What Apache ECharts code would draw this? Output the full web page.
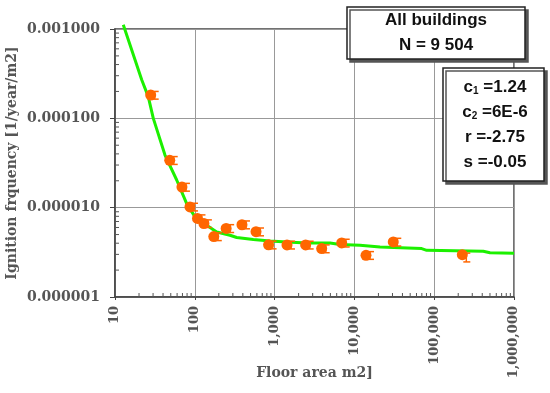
<!DOCTYPE html>
<html>
<head>
<meta charset="utf-8">
<script src="https://cdn.jsdelivr.net/npm/echarts@6/dist/echarts.min.js"></script>
<style>html,body{margin:0;padding:0;background:#fff}#c{width:550px;height:393px}</style>
</head>
<body>
<div id="c"></div>
<script>
// Observed data: floor area (m2) and ignition frequency (1/year/m2)
var areaX = [28, 48.5, 69, 87, 108, 130, 173, 247, 390, 585, 840, 1430, 2450, 3890, 6930, 13970, 30700, 225000];
var freqY = [1.82e-4, 3.39e-5, 1.70e-5, 1.02e-5, 7.57e-6, 6.65e-6, 4.75e-6, 5.86e-6, 6.44e-6, 5.38e-6, 3.84e-6, 3.83e-6, 3.83e-6, 3.48e-6, 4.03e-6, 2.93e-6, 4.13e-6, 2.98e-6];
var errLow = [1.64e-4, 3.05e-5, 1.53e-5, 9.2e-6, 6.8e-6, 6.0e-6, 4.28e-6, 5.27e-6, 5.8e-6, 4.84e-6, 3.46e-6, 3.45e-6, 3.45e-6, 3.13e-6, 3.63e-6, 2.64e-6, 3.72e-6, 2.47e-6];
var errHigh = [2.0e-4, 3.73e-5, 1.87e-5, 1.12e-5, 8.3e-6, 7.3e-6, 5.22e-6, 6.45e-6, 7.1e-6, 5.92e-6, 4.22e-6, 4.21e-6, 4.21e-6, 3.83e-6, 4.43e-6, 3.22e-6, 4.54e-6, 3.1e-6];
// Fitted curve
var fitX = [12.7, 21.6, 26.1, 30.2, 42.3, 59.3, 79.1, 100.6, 141, 188, 276, 335, 541, 875, 1419, 2524, 4943, 6607, 11750, 20940, 69660, 80540, 412100, 500000, 1000000];
var fitY = [1.117e-3, 2.70e-4, 1.75e-4, 1.00e-4, 3.88e-5, 2.04e-5, 1.11e-5, 7.88e-6, 6.36e-6, 5.35e-6, 4.91e-6, 4.63e-6, 4.40e-6, 4.24e-6, 4.13e-6, 4.03e-6, 4.03e-6, 3.86e-6, 3.80e-6, 3.63e-6, 3.48e-6, 3.33e-6, 3.25e-6, 3.13e-6, 3.08e-6];
var xTickLabels = ['10', '100', '1,000', '10,000', '100,000', '1,000,000'];
var yTickLabels = ['0.000001', '0.000010', '0.000100', '0.001000'];
var xAxisName = 'Floor area m2]';
var yAxisName = 'Ignition frquency [1/year/m2]';

var minorX = [];
for (var k = 1; k <= 5; k++) for (var m = 2; m <= 9; m++) minorX.push(m * Math.pow(10, k));
var minorY = [];
for (var k2 = -6; k2 <= -4; k2++) for (var m2 = 2; m2 <= 9; m2++) minorY.push(m2 * Math.pow(10, k2));

var serif = 'DejaVu Serif';
var sans = 'Liberation Sans';
var gray = '#555';

var chart = echarts.init(document.getElementById('c'));
chart.setOption({
  animation: false,
  grid: { left: 115, right: 36, top: 29, bottom: 96, containLabel: false, outerBoundsMode: 'none',
          show: true, borderColor: '#444', borderWidth: 1.5 },
  xAxis: {
    type: 'log', logBase: 10, min: 10, max: 1000000,
    name: xAxisName, nameLocation: 'middle', nameGap: 69, nameMoveOverlap: false,
    nameTextStyle: { fontFamily: serif, fontWeight: 'bold', fontSize: 14, color: gray },
    axisLine: { lineStyle: { color: '#444', width: 1.5 } },
    axisTick: { show: true, length: 3, lineStyle: { color: '#444' } },
    splitLine: { show: true, lineStyle: { color: '#999', width: 1 } },
    axisLabel: {
      rotate: 90, margin: 9, fontFamily: serif, fontWeight: 'bold', fontSize: 13, color: gray,
      formatter: function (v) { return xTickLabels[Math.round(Math.log10(v)) - 1]; }
    }
  },
  yAxis: {
    type: 'log', logBase: 10, min: 1e-6, max: 1e-3,
    name: yAxisName, nameLocation: 'middle', nameGap: 96, nameRotate: 90, nameMoveOverlap: false,
    nameTextStyle: { fontFamily: serif, fontWeight: 'bold', fontSize: 14, color: gray },
    axisLine: { lineStyle: { color: '#444', width: 1.5 } },
    axisTick: { show: true, length: 5, lineStyle: { color: '#444' } },
    splitLine: { show: true, lineStyle: { color: '#999', width: 1 } },
    axisLabel: {
      margin: 15, fontFamily: serif, fontWeight: 'bold', fontSize: 14, color: gray,
      formatter: function (v) { return yTickLabels[Math.round(Math.log10(v)) + 6]; }
    }
  },
  series: [
    {
      type: 'custom', silent: true, clip: false, z: 1,
      data: minorX.map(function (v) { return [v, 1e-6]; }),
      renderItem: function (params, api) {
        var p = api.coord([api.value(0), api.value(1)]);
        return { type: 'line', shape: { x1: p[0], y1: p[1], x2: p[0], y2: p[1] - 4 }, style: { stroke: '#555', lineWidth: 1 } };
      }
    },
    {
      type: 'custom', silent: true, clip: false, z: 1,
      data: minorY.map(function (v) { return [10, v]; }),
      renderItem: function (params, api) {
        var p = api.coord([api.value(0), api.value(1)]);
        return { type: 'line', shape: { x1: p[0], y1: p[1], x2: p[0] + 4, y2: p[1] }, style: { stroke: '#555', lineWidth: 1 } };
      }
    },
    {
      type: 'line', data: fitX.map(function (x, i) { return [x, fitY[i]]; }),
      showSymbol: false, symbol: 'none', smooth: false, clip: false, z: 3,
      lineStyle: { color: '#1cf000', width: 3 }
    },
    {
      type: 'custom', z: 4,
      data: areaX.map(function (x, i) { return [x, freqY[i], errLow[i], errHigh[i]]; }),
      renderItem: function (params, api) {
        var x = api.value(0);
        var p = api.coord([x, api.value(1)]);
        var lo = api.coord([x, api.value(2)]);
        var hi = api.coord([x, api.value(3)]);
        var st = { stroke: '#ff6600', lineWidth: 1.5 };
        return { type: 'group', children: [
          { type: 'line', shape: { x1: p[0] + 4, y1: lo[1], x2: p[0] + 4, y2: hi[1] }, style: st },
          { type: 'line', shape: { x1: p[0] + 1, y1: lo[1], x2: p[0] + 8, y2: lo[1] }, style: st },
          { type: 'line', shape: { x1: p[0] + 1, y1: hi[1], x2: p[0] + 8, y2: hi[1] }, style: st }
        ] };
      }
    },
    {
      type: 'scatter', z: 5, symbol: 'circle', symbolSize: 11,
      data: areaX.map(function (x, i) { return [x, freqY[i]]; }),
      itemStyle: { color: '#ff6600', opacity: 1 }
    }
  ],
  graphic: [
    { type: 'rect', z: 100, shape: { x: 347, y: 7, width: 178, height: 52 },
      style: { fill: '#fff', stroke: '#222', lineWidth: 1.5, shadowColor: '#555', shadowOffsetX: 3, shadowOffsetY: 3, shadowBlur: 0 } },
    { type: 'text', z: 101, x: 436, y: 20, style: { text: 'All buildings', font: 'bold 17px "Liberation Sans"', fill: '#111', textAlign: 'center', textVerticalAlign: 'middle' } },
    { type: 'text', z: 101, x: 436, y: 45, style: { text: 'N = 9 504', font: 'bold 17px "Liberation Sans"', fill: '#111', textAlign: 'center', textVerticalAlign: 'middle' } },
    { type: 'rect', z: 100, shape: { x: 443, y: 68, width: 101, height: 113 },
      style: { fill: '#fff', stroke: '#222', lineWidth: 1.5, shadowColor: '#555', shadowOffsetX: 3, shadowOffsetY: 3, shadowBlur: 0 } },
    { type: 'text', z: 101, x: 495, y: 87, style: { text: '{b|c}{s|1}{b| =1.24}', textAlign: 'center', textVerticalAlign: 'middle',
      rich: { b: { fontFamily: sans, fontWeight: 'bold', fontSize: 17, fill: '#111', lineHeight: 20 }, s: { fontFamily: sans, fontWeight: 'bold', fontSize: 10, fill: '#111', padding: [9, 0, 0, 0] } } } },
    { type: 'text', z: 101, x: 495, y: 112, style: { text: '{b|c}{s|2}{b| =6E-6}', textAlign: 'center', textVerticalAlign: 'middle',
      rich: { b: { fontFamily: sans, fontWeight: 'bold', fontSize: 17, fill: '#111', lineHeight: 20 }, s: { fontFamily: sans, fontWeight: 'bold', fontSize: 10, fill: '#111', padding: [9, 0, 0, 0] } } } },
    { type: 'text', z: 101, x: 495, y: 137, style: { text: 'r =-2.75', font: 'bold 17px "Liberation Sans"', fill: '#111', textAlign: 'center', textVerticalAlign: 'middle' } },
    { type: 'text', z: 101, x: 495, y: 162, style: { text: 's =-0.05', font: 'bold 17px "Liberation Sans"', fill: '#111', textAlign: 'center', textVerticalAlign: 'middle' } }
  ]
});
</script>
</body>
</html>
